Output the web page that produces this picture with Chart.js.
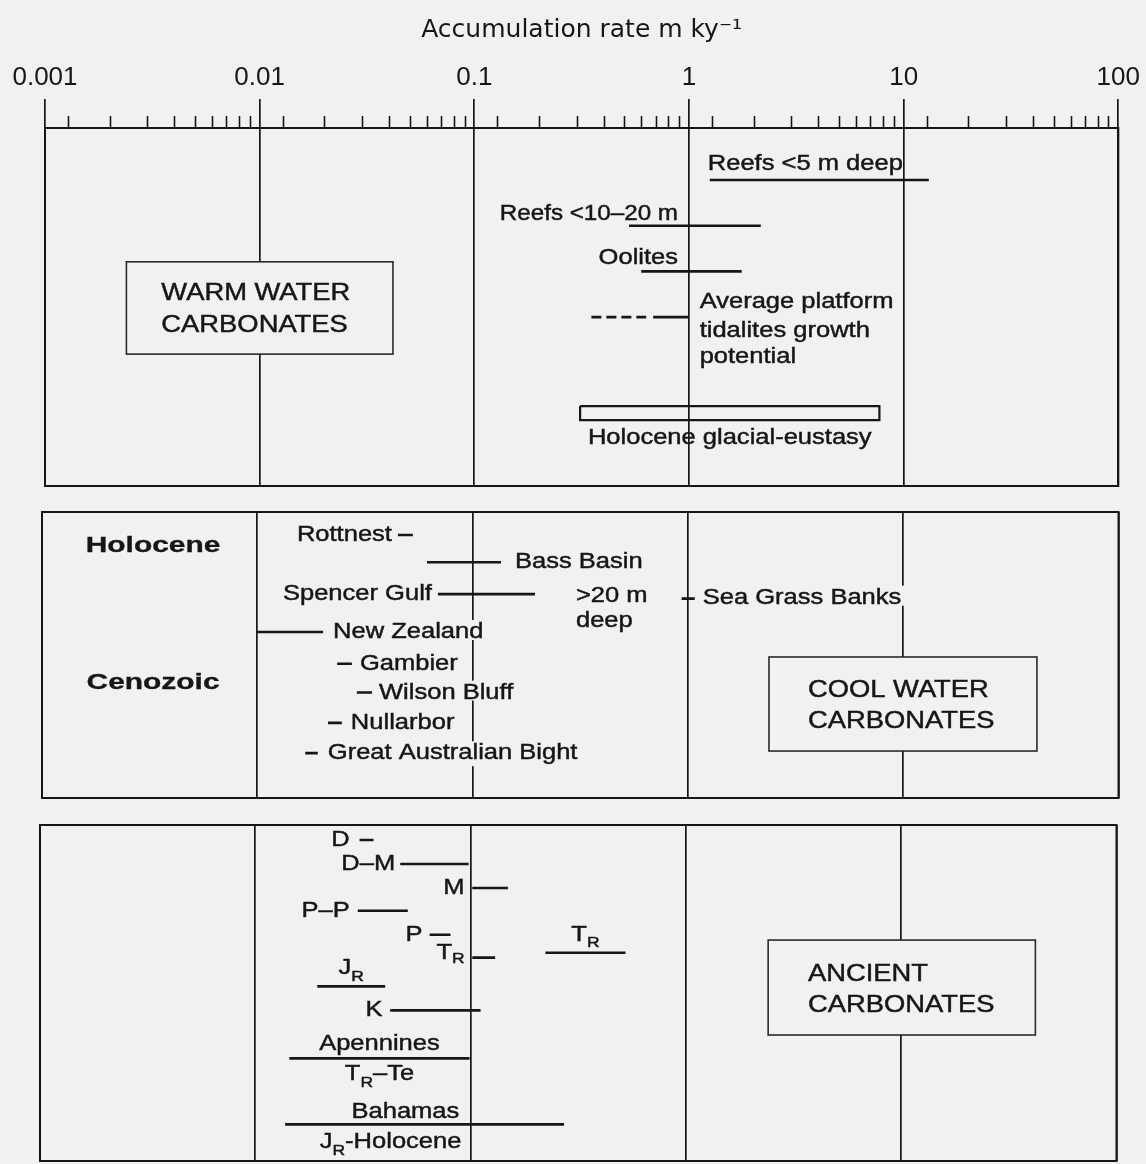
<!DOCTYPE html>
<html><head><meta charset="utf-8">
<script src="https://cdn.jsdelivr.net/npm/chart.js@4.4.1/dist/chart.umd.min.js"></script>
<style>
html,body{margin:0;padding:0;background:#f1f1f1;}
body{width:1146px;height:1164px;position:relative;overflow:hidden;}
.p{position:absolute;left:0;width:1146px;}
</style></head><body>
<div class="p" style="top:0;height:490px"><canvas id="c1"></canvas></div>
<div class="p" style="top:505px;height:300px"><canvas id="c2"></canvas></div>
<div class="p" style="top:818px;height:346px"><canvas id="c3"></canvas></div>
<script>
// ---------- axis ----------
const tickDecades = [0.001, 0.01, 0.1, 1, 10, 100];
const tickLabels = ['0.001', '0.01', '0.1', '1', '10', '100'];
const minorFactors = [1.28, 2, 3, 4, 5, 6, 7, 8, 9];
const axisTitle = 'Accumulation rate m ky\u207B\u00B9';

// ---------- warm water carbonates ----------
const warmNames = ['Reefs <5 m deep', 'Reefs <10–20 m', 'Oolites',
  'Average platform\ntidalites growth\npotential', 'Average platform tidalites (extension)',
  'Holocene glacial-eustasy'];
const warmLow  = [1.25, 0.526, 0.599, 0.681, 0.351, 0.311];
const warmHigh = [13.1, 2.16, 1.76, 1.0, 0.632, 7.71];
const warmRow  = [1, 2, 3, 4, 4, 6.1];

// ---------- cool water carbonates ----------
const coolNames = ['Rottnest', 'Bass Basin', 'Spencer Gulf', 'Sea Grass Banks', 'New Zealand',
  'Gambier', 'Wilson Bluff', 'Nullarbor', 'Great Australian Bight'];
const coolLow  = [0.045, 0.0614, 0.069, 0.935, 0.01, 0.0235, 0.029, 0.0213, 0.0167];
const coolHigh = [0.0528, 0.1355, 0.195, 1.076, 0.0202, 0.0275, 0.0341, 0.0247, 0.0191];
const coolRow  = [1, 1.9, 2.95, 3.1, 4.2, 5.25, 6.2, 7.2, 8.2];

// ---------- ancient carbonates ----------
const ancNames = ['D', 'D–M', 'M', 'P–P', 'P', 'T{R}', 'T{R}', 'J{R}', 'K',
  'Apennines\nT{R}–Te', 'Bahamas\nJ{R}-Holocene'];
const ancLow  = [0.0305, 0.0471, 0.1018, 0.0299, 0.0645, 0.1018, 0.2226, 0.0194, 0.0423, 0.01439, 0.01376];
const ancHigh = [0.0354, 0.0979, 0.149, 0.0511, 0.0807, 0.130, 0.524, 0.0401, 0.1113, 0.0989, 0.2716];
const ancRow  = [1, 2, 3, 3.95, 4.95, 5.9, 5.7, 7.1, 8.1, 10.1, 12.85];

// ---------- styling / layout ----------
const INK = '#161616';
const BG = '#f1f1f1';
const FAM = "'Liberation Sans', Arial, Helvetica, sans-serif";

function isMajor(v) {
  const l = Math.log10(v);
  return Math.abs(l - Math.round(l)) < 1e-6;
}
const allTicks = [];
tickDecades.forEach((d, i) => {
  allTicks.push(d);
  if (i < tickDecades.length - 1) minorFactors.forEach(f => allTicks.push(d * f));
});

function parseRich(str) {
  return str.split(/(\{[^}]*\})/).filter(s => s.length).map(s =>
    s[0] === '{' ? { s: s.slice(1, -1), sub: true } : { s, sub: false });
}
function drawRich(ctx, str, x, y, o) {
  const parts = parseRich(str);
  const size = o.size || 22;
  const fMain = (o.bold ? 'bold ' : '') + size + 'px ' + FAM;
  const fSub = (o.bold ? 'bold ' : '') + Math.round(size * 0.68) + 'px ' + FAM;
  let w = 0;
  parts.forEach(p => { ctx.font = p.sub ? fSub : fMain; p.w = ctx.measureText(p.s).width; w += p.w; });
  ctx.save();
  ctx.translate(x, y);
  ctx.scale(o.sx || 1.16, 1);
  const x0 = o.align === 'right' ? -w : o.align === 'center' ? -w / 2 : 0;
  ctx.textBaseline = o.base || 'middle';
  ctx.textAlign = 'left';
  if (o.knock) {
    ctx.font = fMain;
    const m = ctx.measureText(parts.map(p => p.s).join(''));
    ctx.fillStyle = BG;
    ctx.fillRect(x0 - 3, -m.actualBoundingBoxAscent - 2, w + 6, m.actualBoundingBoxAscent + m.actualBoundingBoxDescent + 4);
  }
  ctx.fillStyle = INK;
  ctx.strokeStyle = INK;
  ctx.lineWidth = o.bold ? 0.3 : 0.45;
  let cx = x0;
  parts.forEach(p => {
    ctx.font = p.sub ? fSub : fMain;
    const yy = p.sub ? size * 0.3 : 0;
    ctx.fillText(p.s, cx, yy);
    ctx.strokeText(p.s, cx, yy);
    cx += p.w;
  });
  ctx.restore();
}

const decoPlugin = {
  id: 'deco',
  afterDatasetsDraw(chart) {
    const cfg = chart.options.plugins.deco;
    const ctx = chart.ctx, xs = chart.scales.x, ys = chart.scales.y;
    const names = cfg.names, low = cfg.low, high = cfg.high, row = cfg.row;
    ctx.save();
    // boxes
    (cfg.boxes || []).forEach(b => {
      const x1 = xs.getPixelForValue(b.x1), x2 = xs.getPixelForValue(b.x2);
      const y1 = ys.getPixelForValue(b.r1), y2 = ys.getPixelForValue(b.r2);
      ctx.fillStyle = BG;
      ctx.fillRect(x1, y1, x2 - x1, y2 - y1);
      ctx.strokeStyle = '#2a2a2a';
      ctx.lineWidth = 1.6;
      ctx.strokeRect(x1, y1, x2 - x1, y2 - y1);
      const tx = xs.getPixelForValue(b.tx);
      b.lines.forEach((t, i) => drawRich(ctx, t, tx, y1 + b.dy0 + i * b.lh,
        { size: 24, sx: 1.14, align: 'left', base: 'alphabetic' }));
    });
    // labels
    (cfg.labels || []).forEach(L => {
      let text, r, pLo, pHi;
      if (L.seg !== undefined) {
        text = names[L.seg];
        r = row[L.seg];
        pLo = xs.getPixelForValue(low[L.seg]);
        pHi = xs.getPixelForValue(high[L.seg]);
      } else {
        text = L.text; r = L.row;
      }
      const lines = text.split('\n');
      lines.forEach((t, i) => {
        const xv = Array.isArray(L.x) ? L.x[i] : L.x;
        let px;
        if (xv === 'lo') px = pLo;
        else if (xv === 'hi') px = pHi;
        else if (xv === 'mid') px = (pLo + pHi) / 2;
        else px = xs.getPixelForValue(xv);
        px += (L.dx || 0);
        const py = ys.getPixelForValue(r) + (L.dys ? L.dys[i] : 0);
        drawRich(ctx, t, px, py, {
          size: L.size || 22, bold: L.bold, sx: L.sx || 1.16,
          align: L.align || 'left', base: L.base || 'middle', knock: cfg.knock
        });
      });
    });
    // panel frame
    const a = chart.chartArea;
    ctx.strokeStyle = INK;
    ctx.lineWidth = 2;
    ctx.strokeRect(a.left, a.top, a.right - a.left, a.bottom - a.top);
    ctx.restore();
  },
  afterDraw(chart) {
    const cfg = chart.options.plugins.deco;
    if (!cfg.axis) return;
    const ctx = chart.ctx, xs = chart.scales.x, top = chart.chartArea.top;
    ctx.save();
    ctx.strokeStyle = INK;
    ctx.lineWidth = 1.6;
    xs.ticks.forEach(t => {
      if (isMajor(t.value)) return;
      const px = Math.round(xs.getPixelForValue(t.value)) + 0.5;
      ctx.beginPath();
      ctx.moveTo(px, top);
      ctx.lineTo(px, top - 12);
      ctx.stroke();
    });
    ctx.restore();
  }
};

function makePanel(id, p) {
  const datasets = p.low.map((lo, i) => {
    const hi = p.high[i], r = p.row[i];
    const st = (p.styles || {})[i];
    let data;
    if (st === 'box') {
      const h = p.boxHalf;
      data = [{ x: lo, y: r - h }, { x: hi, y: r - h }, { x: hi, y: r + h }, { x: lo, y: r + h }, { x: lo, y: r - h }];
    } else {
      data = [{ x: lo, y: r }, { x: hi, y: r }];
    }
    return {
      label: p.names[i].replace(/\n/g, ' ').replace(/[{}]/g, ''),
      data, showLine: true, pointRadius: 0, pointHoverRadius: 0,
      borderColor: INK, backgroundColor: INK,
      borderWidth: st === 'box' ? 2.2 : 2.6,
      borderDash: st === 'dash' ? [10, 5] : [],
      borderCapStyle: 'butt', borderJoinStyle: 'miter', tension: 0, fill: false
    };
  });
  const axis = !!p.axis;
  return new Chart(document.getElementById(id), {
    type: 'scatter',
    data: { datasets },
    plugins: [decoPlugin],
    options: {
      responsive: true, maintainAspectRatio: false, animation: false,
      events: [],
      layout: { padding: p.padding },
      plugins: {
        legend: { display: false }, tooltip: { enabled: false },
        deco: { axis, names: p.names, low: p.low, high: p.high, row: p.row,
                labels: p.labels, boxes: p.boxes, knock: p.knock }
      },
      scales: {
        x: {
          type: 'logarithmic', min: tickDecades[0], max: tickDecades[tickDecades.length - 1],
          position: 'top',
          afterBuildTicks: s => { s.ticks = allTicks.map(v => ({ value: v, major: isMajor(v) })); },
          afterFit: s => { s.height = axis ? p.axisHeight : 0; },
          ticks: {
            display: axis, autoSkip: false, maxRotation: 0, minRotation: 0, padding: 6,
            color: INK, font: { family: FAM, size: 26 },
            callback: v => { const k = tickDecades.findIndex(d => Math.abs(d - v) / d < 1e-6); return k >= 0 ? tickLabels[k] : ''; }
          },
          grid: {
            drawOnChartArea: true, drawTicks: axis, tickLength: 29,
            color: c => (c.tick && isMajor(c.tick.value)) ? INK : 'rgba(0,0,0,0)',
            tickColor: c => (c.tick && isMajor(c.tick.value)) ? INK : 'rgba(0,0,0,0)',
            lineWidth: 1.7, tickWidth: 1.7
          },
          border: { display: axis, color: INK, width: 2 },
          title: {
            display: axis, text: axisTitle, color: INK,
            font: { family: "'DejaVu Sans', sans-serif", size: 25 },
            padding: { top: 15, bottom: 0 }
          }
        },
        y: { type: 'linear', reverse: true, min: p.ymin, max: p.ymax, display: false }
      }
    }
  });
}

// WARM WATER
makePanel('c1', {
  axis: true, axisHeight: 128,
  padding: { left: 45, right: 24.5, top: 0, bottom: 4 },
  ymin: -0.138, ymax: 7.696,
  names: warmNames, low: warmLow, high: warmHigh, row: warmRow,
  styles: { 4: 'dash', 5: 'box' }, boxHalf: 0.153,
  labels: [
    { seg: 0, x: 'lo', dx: -2, dys: [-10], align: 'left', base: 'alphabetic' },
    { seg: 1, x: 0.889, dys: [-6], align: 'right', base: 'alphabetic', sx: 1.1 },
    { seg: 2, x: 0.889, dys: [-7], align: 'right', base: 'alphabetic' },
    { seg: 3, x: 1.121, dys: [-8.7, 20, 46.3], align: 'left', base: 'alphabetic' },
    { seg: 5, x: 'mid', dys: [31.3], align: 'center', base: 'alphabetic' }
  ],
  boxes: [
    { x1: 0.002395, x2: 0.04178, r1: 2.79, r2: 4.81, tx: 0.003483,
      lines: ['WARM WATER', 'CARBONATES'], dy0: 38.3, lh: 31.7 }
  ]
});

// COOL WATER
makePanel('c2', {
  padding: { left: 42, right: 27.5, top: 7, bottom: 7 },
  ymin: 0.241, ymax: 9.68, knock: true,
  names: coolNames, low: coolLow, high: coolHigh, row: coolRow,
  labels: [
    { seg: 0, x: 'lo', dx: -6, align: 'right' },
    { seg: 1, x: 'hi', dx: 14, align: 'left' },
    { seg: 2, x: 'lo', dx: -6, align: 'right' },
    { seg: 3, x: 'hi', dx: 8, align: 'left', dys: [-1] },
    { seg: 4, x: 'hi', dx: 10, align: 'left' },
    { seg: 5, x: 'hi', dx: 8, align: 'left' },
    { seg: 6, x: 'hi', dx: 7, align: 'left' },
    { seg: 7, x: 'hi', dx: 9, align: 'left' },
    { seg: 8, x: 'hi', dx: 10, align: 'left' },
    { text: '>20 m\ndeep', x: 0.302, row: 2.95, dys: [7.7, 33], align: 'left', base: 'alphabetic' },
    { text: 'Holocene', x: 0.00328, row: 1.36, align: 'center', bold: true, sx: 1.36 },
    { text: 'Cenozoic', x: 0.00328, row: 5.88, align: 'center', bold: true, sx: 1.36 }
  ],
  boxes: [
    { x1: 2.38, x2: 41.8, r1: 5.026, r2: 8.13, tx: 3.61,
      lines: ['COOL WATER', 'CARBONATES'], dy0: 40, lh: 31 }
  ]
});

// ANCIENT
makePanel('c3', {
  padding: { left: 40, right: 29.5, top: 7, bottom: 3 },
  ymin: 0.375, ymax: 14.375,
  names: ancNames, low: ancLow, high: ancHigh, row: ancRow,
  labels: [
    { seg: 0, x: 'lo', dx: -10, align: 'right' },
    { seg: 1, x: 'lo', dx: -5, align: 'right' },
    { seg: 2, x: 'lo', dx: -7.7, align: 'right' },
    { seg: 3, x: 'lo', dx: -8, align: 'right' },
    { seg: 4, x: 'lo', dx: -7, align: 'right' },
    { seg: 5, x: 'lo', dx: -7.7, align: 'right', dys: [-5] },
    { seg: 6, x: 'mid', align: 'center', base: 'alphabetic', dys: [-12] },
    { seg: 7, x: 'mid', align: 'center', base: 'alphabetic', dys: [-12] },
    { seg: 8, x: 'lo', dx: -7.7, align: 'right' },
    { seg: 9, x: 'mid', align: 'center', base: 'alphabetic', dys: [-8.7, 22] },
    { seg: 10, x: [0.0498, 0.0425], align: 'center', base: 'alphabetic', dys: [-6.3, 23.7] }
  ],
  boxes: [
    { x1: 2.41, x2: 42.0, r1: 5.17, r2: 9.125, tx: 3.69,
      lines: ['ANCIENT', 'CARBONATES'], dy0: 41, lh: 31 }
  ]
});
</script>
</body></html>
